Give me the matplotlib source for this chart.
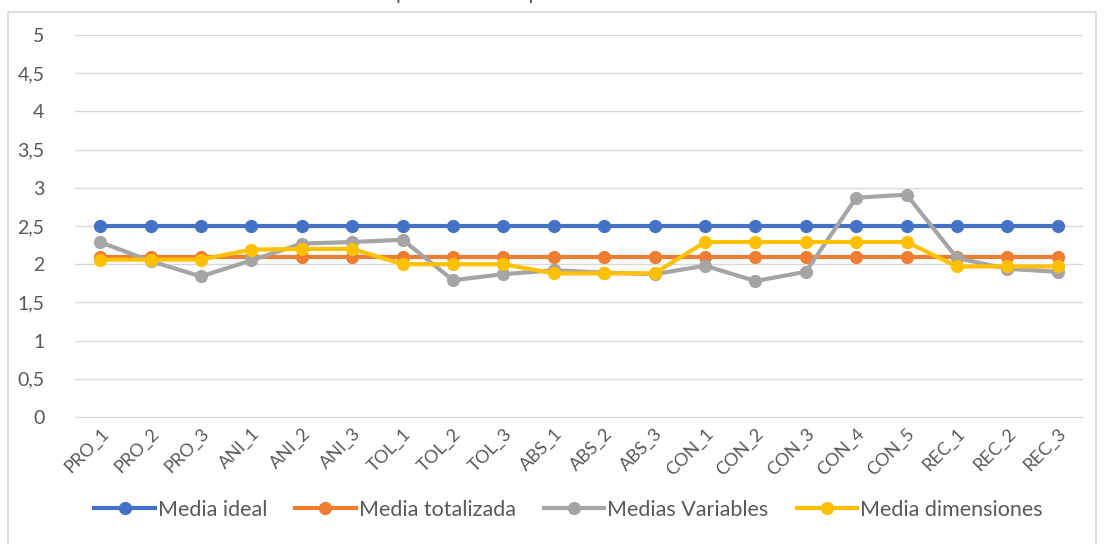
import matplotlib
matplotlib.use("Agg")
import matplotlib.pyplot as plt
from matplotlib.patches import Rectangle

plt.rcParams['font.family'] = ['Lato', 'DejaVu Sans']

categorias = ['PRO_1', 'PRO_2', 'PRO_3', 'ANI_1', 'ANI_2', 'ANI_3', 'TOL_1', 'TOL_2', 'TOL_3',
              'ABS_1', 'ABS_2', 'ABS_3', 'CON_1', 'CON_2', 'CON_3', 'CON_4', 'CON_5',
              'REC_1', 'REC_2', 'REC_3']

media_ideal = [2.5] * 20
media_totalizada = [2.09] * 20
medias_variables = [2.29, 2.04, 1.84, 2.05, 2.27, 2.29, 2.32, 1.79, 1.87, 1.92,
                    1.89, 1.87, 1.98, 1.78, 1.90, 2.87, 2.91, 2.08, 1.94, 1.90]
media_dimensiones = [2.06, 2.06, 2.06, 2.19, 2.20, 2.20, 2.00, 2.00, 2.00, 1.88,
                     1.88, 1.88, 2.29, 2.29, 2.29, 2.29, 2.29, 1.97, 1.97, 1.97]

series = [
    ('Media ideal', media_ideal, '#4472C4'),
    ('Media totalizada', media_totalizada, '#ED7D31'),
    ('Medias Variables', medias_variables, '#A5A5A5'),
    ('Media dimensiones', media_dimensiones, '#FFC000'),
]

fig = plt.figure(figsize=(11.04, 5.44), dpi=100)
ax = fig.add_axes([75 / 1104, 1 - 417 / 544, (1083 - 75) / 1104, (417 - 35) / 544])

# marco del grafico
fig.patches.append(Rectangle((8 / 1104, -0.01), 1088 / 1104, 1 - 12 / 544 + 0.01,
                             transform=fig.transFigure, fill=False,
                             edgecolor='#D9D9D9', linewidth=1.2))

x = range(len(categorias))
for nombre, vals, color in series:
    ax.plot(x, vals, color=color, linewidth=3, marker='o', markersize=8.5, label=nombre,
            solid_joinstyle='round')

ax.set_xlim(-0.5, len(categorias) - 0.5)
ax.set_ylim(0, 5)
ax.set_yticks([0, 0.5, 1, 1.5, 2, 2.5, 3, 3.5, 4, 4.5, 5])
ax.set_yticklabels(['0', '0,5', '1', '1,5', '2', '2,5', '3', '3,5', '4', '4,5', '5'])
ax.set_xticks(list(x))
ax.set_xticklabels(categorias, rotation=45, ha='right', rotation_mode='anchor')
ax.tick_params(axis='y', length=0, labelsize=14, labelcolor='#595959', pad=22)
ax.tick_params(axis='x', length=0, labelsize=13, labelcolor='#595959', pad=6)
ax.grid(axis='y', color='#D9D9D9', linewidth=1)
ax.set_axisbelow(True)
for s in ['top', 'right', 'left']:
    ax.spines[s].set_visible(False)
ax.spines['bottom'].set_color('#D9D9D9')

fig.text(0.5, 1 - 3 / 544, 'Comparación de la puntuación con la media', ha='center', va='bottom',
         fontsize=15, color='#595959')

fig.legend(loc='center', bbox_to_anchor=(0.515, 1 - 510 / 544), ncol=4, frameon=False,
           fontsize=15.5, labelcolor='#595959', handlelength=2.8, handletextpad=0.15,
           columnspacing=1.3)

fig.savefig('out.png', dpi=100)
